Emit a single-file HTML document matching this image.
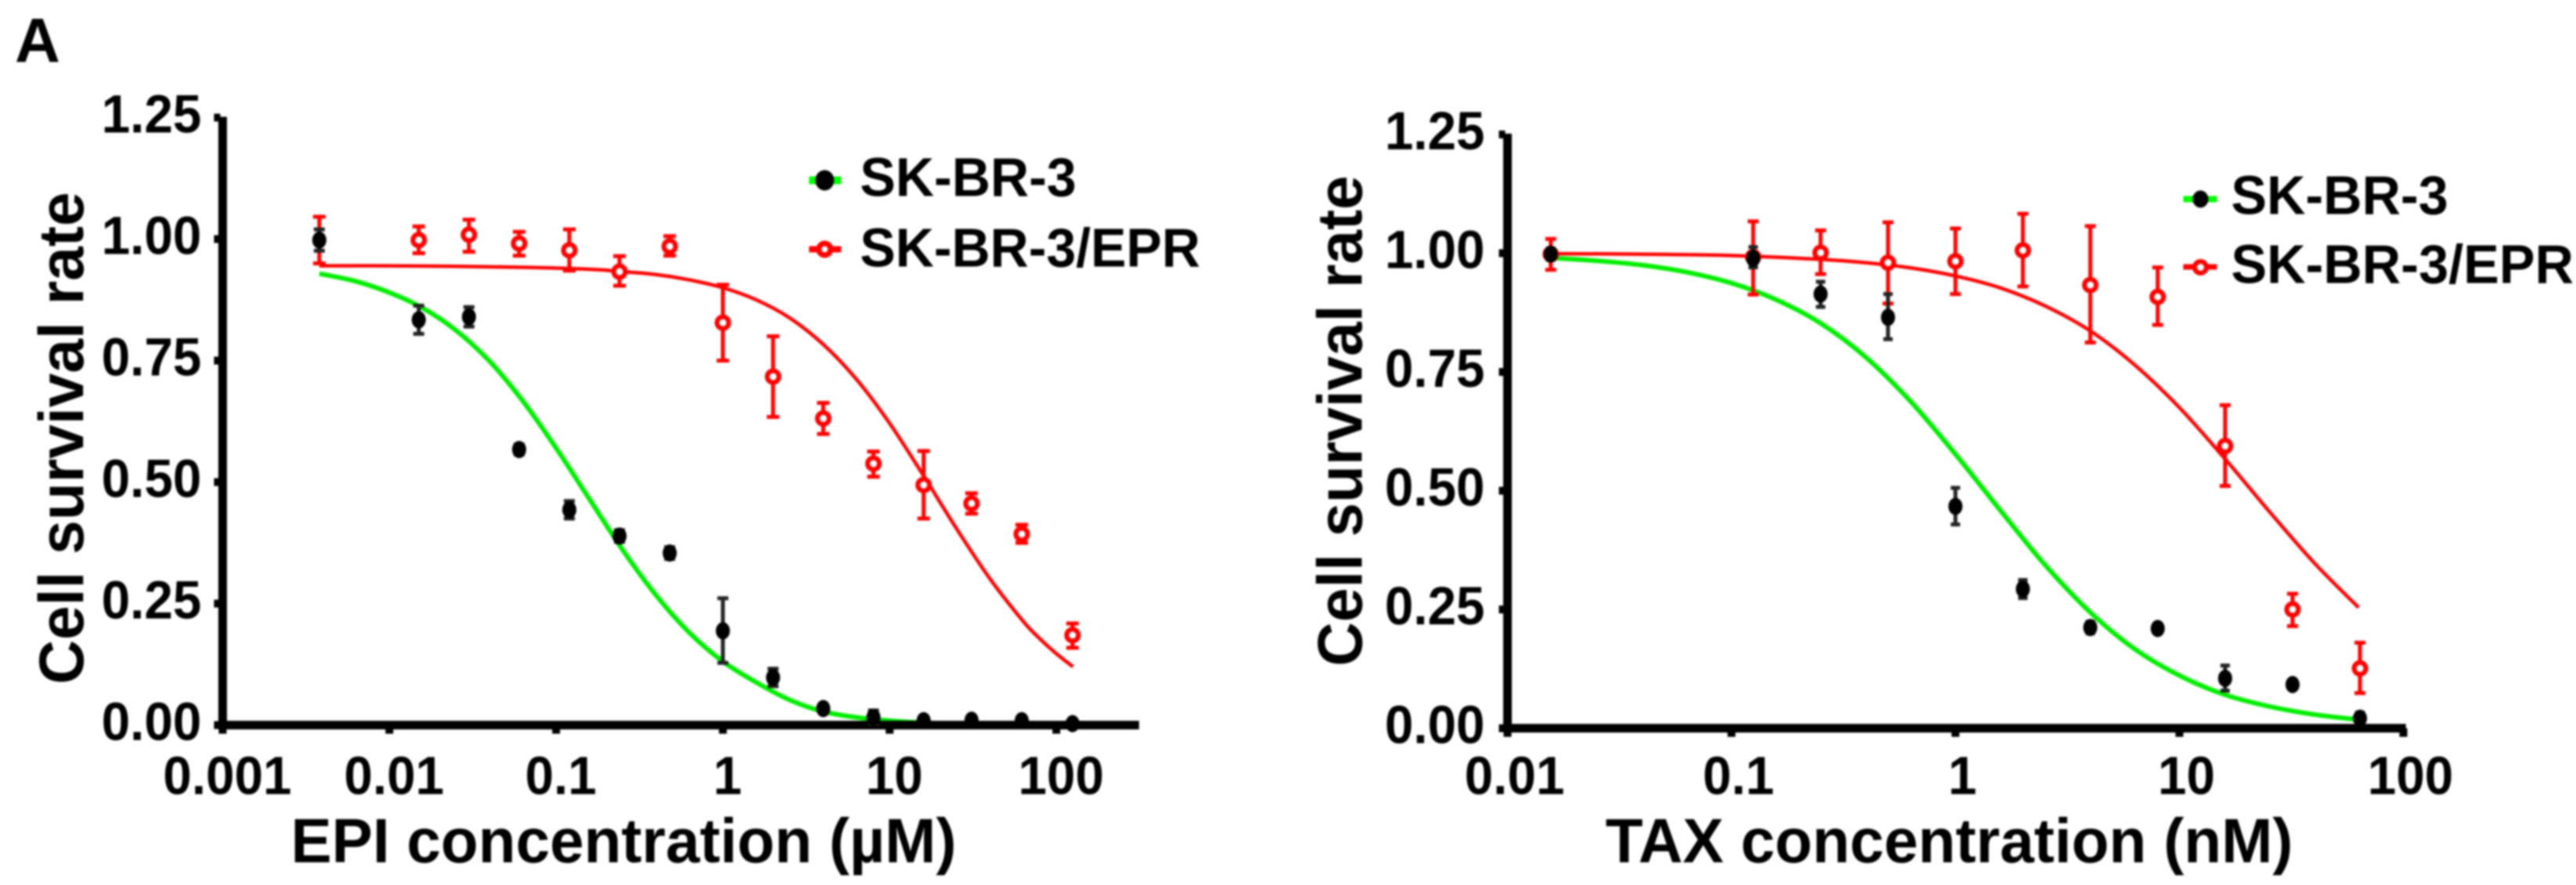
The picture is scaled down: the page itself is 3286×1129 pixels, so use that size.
<!DOCTYPE html>
<html lang="en">
<head>
<meta charset="utf-8">
<title>Cell survival rate charts</title>
<style>
html,body{margin:0;padding:0;background:#fff;width:3286px;height:1129px;overflow:hidden}
svg{display:block;filter:blur(1.2px)}
text{font-family:"Liberation Sans",Arial,sans-serif;font-weight:bold;fill:#000}
</style>
</head>
<body>
<svg id="fig" xmlns="http://www.w3.org/2000/svg" width="3286" height="1129" viewBox="0 0 3286 1129">
  <rect x="0" y="0" width="3286" height="1129" fill="#fff"/>
  <text x="19" y="79" font-size="80">A</text>
  <g id="left-plot"></g>
  <g id="right-plot"></g>

  <text transform="translate(106,873) rotate(-90)" font-size="81" textLength="628" lengthAdjust="spacingAndGlyphs">Cell survival rate</text>
  <text x="371" y="1100" font-size="80" textLength="849" lengthAdjust="spacingAndGlyphs">EPI concentration (µM)</text>
  <g>
    <rect x="1032" y="225" width="41" height="10" fill="#00ff00"/>
    <ellipse cx="1052" cy="230" rx="12" ry="13" fill="#000"/>
    <text x="1097" y="250" font-size="70" textLength="276" lengthAdjust="spacingAndGlyphs">SK-BR-3</text>
    <rect x="1032" y="314" width="41" height="8" fill="#ff0000"/>
    <circle cx="1052" cy="318" r="7.5" fill="#fff" stroke="#ff0000" stroke-width="7"/>
    <text x="1097" y="340" font-size="70" textLength="434" lengthAdjust="spacingAndGlyphs">SK-BR-3/EPR</text>
  </g>

  <text transform="translate(1737,850) rotate(-90)" font-size="81" textLength="626" lengthAdjust="spacingAndGlyphs">Cell survival rate</text>
  <text x="2048" y="1100" font-size="80" textLength="877" lengthAdjust="spacingAndGlyphs">TAX concentration (nM)</text>
  <g>
    <rect x="2785" y="250" width="43" height="8" fill="#00ff00"/>
    <ellipse cx="2807" cy="254" rx="10" ry="11" fill="#000"/>
    <text x="2846" y="273" font-size="70" textLength="277" lengthAdjust="spacingAndGlyphs">SK-BR-3</text>
    <rect x="2785" y="337" width="43" height="7" fill="#ff0000"/>
    <circle cx="2807" cy="341" r="7.5" fill="#fff" stroke="#ff0000" stroke-width="6"/>
    <text x="2846" y="361" font-size="70" textLength="437" lengthAdjust="spacingAndGlyphs">SK-BR-3/EPR</text>
  </g>
</svg>

<script>
/* ---------- Shared value-axis ticks ---------- */
var yTickValues = [0, 0.25, 0.5, 0.75, 1, 1.25];
var yTickLabels = ['0.00', '0.25', '0.50', '0.75', '1.00', '1.25'];

/* ---------- EPI chart data ---------- */
var epiTickValues = [0.001, 0.01, 0.1, 1, 10, 100];
var epiTickLabels = ['0.001', '0.01', '0.1', '1', '10', '100'];
var epiDoses = [0.0038, 0.015, 0.03, 0.06, 0.12, 0.24, 0.48, 1, 2, 4, 8, 16, 31, 62, 125];

var epiParentalMean = [0.998, 0.834, 0.84, 0.567, 0.443, 0.389, 0.354, 0.194, 0.098, 0.034, 0.016, 0.009, 0.01, 0.009, 0.003];
var epiParentalHigh = [1.02, 0.863, 0.86, 0.577, 0.461, 0.401, 0.366, 0.261, 0.116, 0.04, 0.03, 0.013, 0.014, 0.014, 0.005];
var epiParentalLow = [0.976, 0.805, 0.82, 0.557, 0.425, 0.377, 0.342, 0.128, 0.08, 0.028, 0.002, 0.005, 0.006, 0.004, 0.001];

var epiResistantMean = [1, 0.998, 1.009, 0.991, 0.977, 0.933, 0.985, 0.828, 0.717, 0.631, 0.538, 0.494, 0.456, 0.393, 0.185];
var epiResistantHigh = [1.046, 1.026, 1.04, 1.015, 1.02, 0.965, 1.006, 0.906, 0.8, 0.663, 0.563, 0.564, 0.477, 0.412, 0.209];
var epiResistantLow = [0.95, 0.971, 0.974, 0.966, 0.935, 0.904, 0.966, 0.75, 0.634, 0.599, 0.511, 0.425, 0.435, 0.375, 0.159];

var epiParentalCurveLogDose = [-2.42, -2.2, -2, -1.8, -1.6, -1.4, -1.2, -1, -0.8, -0.6, -0.4, -0.2, 0, 0.2, 0.4, 0.6, 0.8, 1, 1.2, 1.4, 1.6];
var epiParentalCurveValue = [0.929, 0.913, 0.89, 0.858, 0.812, 0.749, 0.667, 0.57, 0.465, 0.36, 0.267, 0.19, 0.131, 0.088, 0.052, 0.028, 0.016, 0.009, 0.005, 0.003, 0.002];

var epiResistantCurveLogDose = [-2.42, -2, -1.6, -1.2, -0.8, -0.6, -0.4, -0.2, 0, 0.2, 0.4, 0.6, 0.8, 1, 1.2, 1.4, 1.6, 1.8, 1.9, 2, 2.1];
var epiResistantCurveValue = [0.945, 0.945, 0.944, 0.942, 0.938, 0.933, 0.927, 0.916, 0.9, 0.875, 0.838, 0.784, 0.712, 0.621, 0.515, 0.405, 0.302, 0.214, 0.178, 0.147, 0.12];

/* ---------- TAX chart data ---------- */
var taxTickValues = [0.01, 0.1, 1, 10, 100];
var taxTickLabels = ['0.01', '0.1', '1', '10', '100'];
var taxDoses = [0.0156, 0.125, 0.25, 0.5, 1, 2, 4, 8, 16, 32, 64];

var taxParentalMean = [0.998, 0.989, 0.914, 0.865, 0.467, 0.293, 0.212, 0.21, 0.105, 0.092, 0.021];
var taxParentalHigh = [1.01, 1.013, 0.94, 0.914, 0.506, 0.312, 0.224, 0.22, 0.132, 0.1, 0.033];
var taxParentalLow = [0.986, 0.97, 0.887, 0.819, 0.429, 0.274, 0.2, 0.2, 0.079, 0.084, 0.009];

var taxResistantMean = [0.998, 0.992, 1.001, 0.98, 0.983, 1.006, 0.933, 0.908, 0.594, 0.25, 0.126];
var taxResistantHigh = [1.03, 1.067, 1.048, 1.065, 1.052, 1.083, 1.057, 0.97, 0.68, 0.283, 0.18];
var taxResistantLow = [0.965, 0.913, 0.956, 0.894, 0.914, 0.93, 0.812, 0.849, 0.51, 0.215, 0.074];

var taxParentalCurveLogDose = [-1.8, -1.6, -1.4, -1.2, -1, -0.8, -0.6, -0.4, -0.2, 0, 0.2, 0.4, 0.6, 0.8, 1, 1.2, 1.4, 1.6, 1.8];
var taxParentalCurveValue = [0.99, 0.984, 0.975, 0.96, 0.937, 0.902, 0.852, 0.781, 0.688, 0.577, 0.459, 0.344, 0.245, 0.167, 0.111, 0.071, 0.046, 0.029, 0.018];

var taxResistantCurveLogDose = [-1.8, -1.4, -1, -0.6, -0.4, -0.2, 0, 0.2, 0.4, 0.6, 0.8, 1, 1.2, 1.4, 1.6, 1.8];
var taxResistantCurveValue = [0.999, 0.998, 0.995, 0.987, 0.98, 0.969, 0.952, 0.927, 0.889, 0.837, 0.765, 0.675, 0.569, 0.457, 0.349, 0.254];

/* ---------- Rendering ---------- */
var SVG_NS = 'http://www.w3.org/2000/svg';

function mk(parent, tag, attrs, content) {
  var el = document.createElementNS(SVG_NS, tag);
  for (var k in attrs) { el.setAttribute(k, attrs[k]); }
  if (content !== undefined) { el.textContent = content; }
  parent.appendChild(el);
  return el;
}

function drawCurve(root, name, logs, vals, sx, sy, color, width) {
  var pts = logs.map(function (l, i) { return [sx(Math.pow(10, l)), sy(vals[i])]; });
  var d = 'M' + pts[0][0] + ' ' + pts[0][1];
  for (var i = 0; i < pts.length - 1; i++) {
    var p0 = pts[Math.max(i - 1, 0)], p1 = pts[i], p2 = pts[i + 1], p3 = pts[Math.min(i + 2, pts.length - 1)];
    var c1x = p1[0] + (p2[0] - p0[0]) / 6, c1y = p1[1] + (p2[1] - p0[1]) / 6;
    var c2x = p2[0] - (p3[0] - p1[0]) / 6, c2y = p2[1] - (p3[1] - p1[1]) / 6;
    d += ' C' + c1x + ' ' + c1y + ' ' + c2x + ' ' + c2y + ' ' + p2[0] + ' ' + p2[1];
  }
  var el = mk(root, 'path', { d: d, fill: 'none', stroke: color, 'stroke-width': width });
  
  
}

function drawAxes(root, prefix, cfg, sx, sy, xVals, xLabels, xOffset) {
  var yAxis = mk(root, 'rect', { x: cfg.axisX - 5.5, y: sy(1.25) - 1, width: 11, height: sy(0) - sy(1.25) + 6, fill: '#000' });
  
  
  var xAxis = mk(root, 'rect', { x: cfg.axisX - 5.5, y: sy(0) - 5.5, width: cfg.axisEnd - cfg.axisX + 5.5, height: 11, fill: '#000' });
  
  

  yTickValues.forEach(function (v, i) {
    var t = mk(root, 'rect', { x: cfg.axisX - 11, y: sy(v) - 5, width: 8, height: 10, fill: '#000' });
    
    
    var lab = mk(root, 'text', {
      transform: 'translate(' + cfg.yLabelRight + ',' + (sy(v) + 19) + ') scale(0.95,1)',
      'font-size': 69, 'text-anchor': 'end'
    }, yTickLabels[i]);
    
    
  });

  xVals.forEach(function (v, i) {
    var t = mk(root, 'rect', { x: sx(v) - 5, y: sy(0), width: 10, height: 11, fill: '#000' });
    
    
    var lab = mk(root, 'text', {
      transform: 'translate(' + (sx(v) + xOffset) + ',1013) scale(0.95,1)',
      'font-size': 69, 'text-anchor': 'middle'
    }, xLabels[i]);
    
    
  });
}

function drawErrorBars(root, name, doses, hi, lo, sx, sy, color, capHalf) {
  doses.forEach(function (c, i) {
    var x = sx(c), yh = sy(hi[i]), yl = sy(lo[i]);
    var stem = mk(root, 'line', { x1: x, x2: x, y1: yh, y2: yl, stroke: color, 'stroke-width': 5 });
    
    
    var top = mk(root, 'line', { x1: x - capHalf, x2: x + capHalf, y1: yh, y2: yh, stroke: color, 'stroke-width': 5 });
    
    
    var bot = mk(root, 'line', { x1: x - capHalf, x2: x + capHalf, y1: yl, y2: yl, stroke: color, 'stroke-width': 5 });
    
    
  });
}

function drawFilled(root, name, doses, vals, sx, sy, rx, ry) {
  doses.forEach(function (c, i) {
    var el = mk(root, 'ellipse', { cx: sx(c), cy: sy(vals[i]), rx: rx, ry: ry, fill: '#000' });
    
    
  });
}

function drawOpen(root, name, doses, vals, sx, sy, r) {
  doses.forEach(function (c, i) {
    var el = mk(root, 'circle', { cx: sx(c), cy: sy(vals[i]), r: r, fill: '#fff', stroke: '#ff0000', 'stroke-width': 6 });
    
    
  });
}

function scales(cfg) {
  return {
    x: function (c) { return cfg.axisX + (Math.log10(c) - cfg.logMin) * cfg.decade; },
    y: function (v) { return cfg.y0 - v * cfg.unit; }
  };
}

/* EPI panel */
(function () {
  var cfg = { axisX: 284, axisEnd: 1453, logMin: -3, decade: 212.7, y0: 925, unit: 620, yLabelRight: 257 };
  var s = scales(cfg);
  var root = document.getElementById('left-plot');
  drawCurve(root, 'epi-fit-parental', epiParentalCurveLogDose, epiParentalCurveValue, s.x, s.y, '#00ee00', 6);
  drawCurve(root, 'epi-fit-resistant', epiResistantCurveLogDose, epiResistantCurveValue, s.x, s.y, '#ff0000', 4.5);
  drawAxes(root, 'epi', cfg, s.x, s.y, epiTickValues, epiTickLabels, 6);
  drawErrorBars(root, 'epi-error-resistant', epiDoses, epiResistantHigh, epiResistantLow, s.x, s.y, '#ff0000', 8);
  drawOpen(root, 'epi-point-resistant', epiDoses.slice(1), epiResistantMean.slice(1), s.x, s.y, 7.5);
  drawErrorBars(root, 'epi-error-parental', epiDoses, epiParentalHigh, epiParentalLow, s.x, s.y, '#222', 7);
  drawFilled(root, 'epi-point-parental', epiDoses, epiParentalMean, s.x, s.y, 9, 11);
})();

/* TAX panel */
(function () {
  var cfg = { axisX: 1923, axisEnd: 3069, logMin: -2, decade: 285.7, y0: 929, unit: 606, yLabelRight: 1894 };
  var s = scales(cfg);
  var root = document.getElementById('right-plot');
  drawCurve(root, 'tax-fit-parental', taxParentalCurveLogDose, taxParentalCurveValue, s.x, s.y, '#00ee00', 6);
  drawCurve(root, 'tax-fit-resistant', taxResistantCurveLogDose, taxResistantCurveValue, s.x, s.y, '#ff0000', 4.5);
  drawAxes(root, 'tax', cfg, s.x, s.y, taxTickValues, taxTickLabels, 9);
  drawErrorBars(root, 'tax-error-resistant', taxDoses, taxResistantHigh, taxResistantLow, s.x, s.y, '#ff0000', 7);
  drawOpen(root, 'tax-point-resistant', taxDoses, taxResistantMean, s.x, s.y, 7.5);
  drawErrorBars(root, 'tax-error-parental', taxDoses, taxParentalHigh, taxParentalLow, s.x, s.y, '#222', 6);
  drawFilled(root, 'tax-point-parental', taxDoses, taxParentalMean, s.x, s.y, 9, 11);
})();
</script>
</body>
</html>
